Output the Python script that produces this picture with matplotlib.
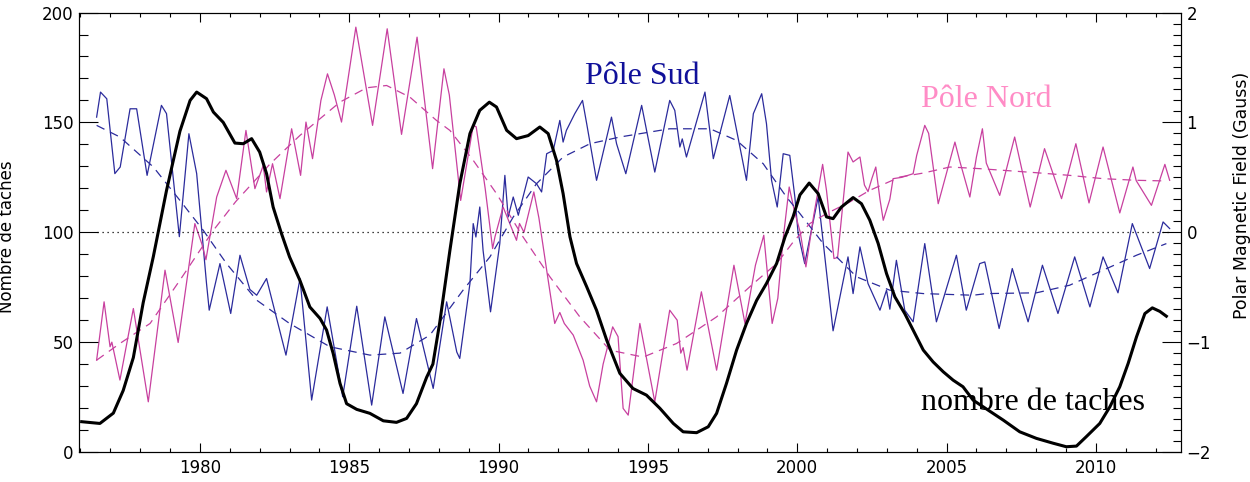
import matplotlib
matplotlib.use("Agg")
import matplotlib.pyplot as plt
import numpy as np
from matplotlib.ticker import MultipleLocator

# nombre de taches (moyenne glissante)
ss_year = [1976.04, 1976.65, 1977.1, 1977.43, 1977.77, 1978.1, 1978.44, 1978.88, 1979.33, 1979.67,
           1979.89, 1980.22, 1980.45, 1980.78, 1981.17, 1981.45, 1981.73, 1982.0, 1982.23, 1982.45,
           1982.73, 1983.0, 1983.35, 1983.68, 1984.02, 1984.24, 1984.46, 1984.69, 1984.91, 1985.25,
           1985.69, 1986.14, 1986.58, 1986.92, 1987.25, 1987.59, 1987.8, 1988.03, 1988.37, 1988.7,
           1989.04, 1989.37, 1989.69, 1989.93, 1990.27, 1990.6, 1990.99, 1991.38, 1991.66, 1991.94,
           1992.16, 1992.39, 1992.61, 1992.95, 1993.28, 1993.62, 1994.06, 1994.5, 1994.95, 1995.4,
           1995.85, 1996.18, 1996.63, 1997.02, 1997.3, 1997.63, 1997.97, 1998.3, 1998.64, 1998.97,
           1999.31, 1999.59, 1999.86, 2000.09, 2000.4, 2000.7, 2000.98, 2001.2, 2001.48, 2001.87,
           2002.15, 2002.43, 2002.71, 2002.99, 2003.27, 2003.6, 2003.88, 2004.22, 2004.55, 2004.89,
           2005.22, 2005.55, 2005.89, 2006.4, 2006.9, 2007.45, 2008.01, 2008.57, 2009.01, 2009.35,
           2009.68, 2010.13, 2010.47, 2010.8, 2011.08, 2011.36, 2011.64, 2011.89, 2012.14, 2012.36]
ss_val = [13.8, 13.0, 17.7, 28.0, 43.0, 68.0, 89.0, 119.0, 146.0, 160.0,
          163.8, 160.8, 154.7, 150.0, 140.6, 140.3, 142.6, 136.5, 126.7, 111.5,
          99.4, 88.8, 78.0, 66.0, 60.8, 55.5, 44.9, 31.2, 22.0, 19.4,
          17.6, 14.2, 13.5, 15.3, 22.0, 34.0, 40.0, 59.0, 91.8, 122.0,
          144.9, 155.5, 159.2, 157.0, 146.4, 142.6, 144.0, 147.9, 144.9, 132.7,
          117.6, 97.9, 85.8, 75.2, 64.5, 50.9, 35.8, 28.9, 25.9, 19.9,
          13.0, 9.2, 8.8, 11.5, 17.6, 31.2, 46.4, 58.5, 69.0, 76.7,
          85.8, 97.9, 107.0, 117.0, 122.4, 117.6, 107.0, 106.2, 111.5, 115.8,
          113.0, 105.5, 94.9, 81.2, 70.6, 63.0, 55.5, 46.4, 41.0, 36.5,
          32.7, 29.7, 23.6, 19.0, 14.5, 9.2, 6.2, 4.0, 2.4, 2.7,
          7.0, 13.0, 20.6, 29.7, 40.3, 52.4, 63.0, 65.6, 64.0, 61.8]

# champ polaire sud (Gauss)
sud_year = [1976.54, 1976.67, 1976.88, 1977.15, 1977.33, 1977.66, 1977.88, 1978.23, 1978.71, 1978.88,
            1979.31, 1979.63, 1979.89, 1980.22, 1980.31, 1980.67, 1981.03, 1981.34, 1981.67, 1981.9,
            1982.23, 1982.88, 1983.35, 1983.74, 1984.26, 1984.78, 1985.25, 1985.75, 1986.19, 1986.8,
            1987.25, 1987.81, 1988.26, 1988.6, 1988.7, 1989.04, 1989.15, 1989.24, 1989.37, 1989.48,
            1989.73, 1990.04, 1990.21, 1990.32, 1990.49, 1990.66, 1990.99, 1991.27, 1991.44, 1991.61,
            1991.83, 1992.05, 1992.16, 1992.27, 1992.55, 1992.81, 1992.95, 1993.28, 1993.78, 1993.95,
            1994.26, 1994.79, 1995.23, 1995.73, 1995.9, 1996.07, 1996.15, 1996.29, 1996.91, 1997.19,
            1997.74, 1998.3, 1998.53, 1998.81, 1998.97, 1999.14, 1999.33, 1999.53, 1999.75, 1999.92,
            2000.03, 2000.25, 2000.7, 2001.2, 2001.7, 2001.87, 2002.1, 2002.37, 2002.77, 2002.99,
            2003.1, 2003.32, 2003.6, 2003.88, 2004.27, 2004.66, 2005.33, 2005.66, 2006.11, 2006.28,
            2006.76, 2007.2, 2007.73, 2008.21, 2008.73, 2009.29, 2009.8, 2010.24, 2010.74, 2011.22,
            2011.8, 2012.25, 2012.47]
sud_val = [1.048, 1.276, 1.215, 0.534, 0.594, 1.124, 1.124, 0.518, 1.155, 1.08,
           -0.04, 0.897, 0.534, -0.467, -0.709, -0.285, -0.739, -0.209, -0.52, -0.573,
           -0.421, -1.118, -0.421, -1.527, -0.679, -1.497, -0.673, -1.573, -0.77, -1.467,
           -0.785, -1.421, -0.633, -1.09, -1.148, -0.467, 0.079, -0.043, 0.23, -0.164,
           -0.724, -0.103, 0.518, 0.139, 0.321, 0.155, 0.503, 0.442, 0.367, 0.715,
           0.745, 1.018, 0.821, 0.927, 1.079, 1.2, 0.988, 0.473, 1.048, 0.806,
           0.533, 1.155, 0.548, 1.2, 1.109, 0.776, 0.85, 0.685, 1.276, 0.67,
           1.245, 0.473, 1.079, 1.261, 0.988, 0.473, 0.23, 0.715, 0.70, 0.321,
           -0.012, -0.285, 0.321, -0.897, -0.224, -0.558, -0.133, -0.467, -0.709, -0.527,
           -0.7, -0.255, -0.709, -0.815, -0.103, -0.815, -0.209, -0.709, -0.285, -0.27,
           -0.876, -0.33, -0.815, -0.3, -0.739, -0.224, -0.679, -0.224, -0.551, 0.079,
           -0.33, 0.094, 0.034]

# champ polaire nord (Gauss)
nord_year = [1976.54, 1976.79, 1976.99, 1977.05, 1977.32, 1977.77, 1978.27, 1978.83, 1979.27, 1979.83,
             1980.06, 1980.2, 1980.56, 1980.87, 1981.23, 1981.54, 1981.84, 1982.12, 1982.23, 1982.43,
             1982.68, 1983.07, 1983.37, 1983.55, 1983.77, 1984.05, 1984.27, 1984.5, 1984.74, 1985.22,
             1985.78, 1986.27, 1986.75, 1987.27, 1987.79, 1988.17, 1988.35, 1988.73, 1989.15, 1989.25,
             1989.55, 1989.8, 1989.88, 1990.15, 1990.3, 1990.6, 1990.7, 1990.85, 1991.18, 1991.35,
             1991.61, 1991.88, 1992.05, 1992.2, 1992.5, 1992.83, 1993.05, 1993.28, 1993.5, 1993.82,
             1994.0, 1994.17, 1994.34, 1994.73, 1995.23, 1995.73, 1995.98, 1996.1, 1996.18, 1996.31,
             1996.79, 1997.3, 1997.88, 1998.25, 1998.6, 1998.88, 1999.16, 1999.35, 1999.52, 1999.73,
             1999.9, 2000.1, 2000.29, 2000.55, 2000.85, 2000.98, 2001.23, 2001.35, 2001.7, 2001.87,
             2002.1, 2002.25, 2002.37, 2002.5, 2002.63, 2002.77, 2002.88, 2003.1, 2003.21, 2003.5,
             2003.88, 2004.0, 2004.27, 2004.4, 2004.72, 2005.28, 2005.44, 2005.78, 2006.0, 2006.2,
             2006.33, 2006.78, 2007.28, 2007.8, 2008.28, 2008.85, 2009.33, 2009.77, 2010.24, 2010.8,
             2011.24, 2011.35, 2011.86, 2012.31, 2012.47]
nord_val = [-1.164, -0.633, -1.042, -1.0, -1.345, -0.694, -1.543, -0.345, -1.003, 0.079,
            -0.103, -0.25, 0.321, 0.564, 0.306, 0.927, 0.397, 0.609, 0.367, 0.624,
            0.306, 0.942, 0.518, 1.003, 0.67, 1.2, 1.442, 1.25, 1.003, 1.867,
            0.973, 1.852, 0.891, 1.776, 0.579, 1.488, 1.25, 0.29, 0.973, 0.96,
            0.40, -0.148, -0.04, 0.23, 0.13, -0.073, 0.08, 0.0, 0.367, 0.13,
            -0.345, -0.83, -0.73, -0.83, -0.936, -1.164, -1.4, -1.543, -1.2, -0.861,
            -0.95, -1.603, -1.664, -0.83, -1.543, -0.709, -0.8, -1.1, -1.05, -1.255,
            -0.542, -1.255, -0.3, -0.83, -0.3, -0.027, -0.83, -0.6, -0.08, 0.412,
            0.2, 0.0, -0.315, 0.15, 0.618, 0.38, -0.239, -0.23, 0.73, 0.64,
            0.685, 0.43, 0.37, 0.49, 0.594, 0.3, 0.109, 0.3, 0.488, 0.50,
            0.533, 0.7, 0.973, 0.9, 0.26, 0.821, 0.65, 0.321, 0.685, 0.942,
            0.63, 0.336, 0.867, 0.23, 0.761, 0.306, 0.806, 0.267, 0.776, 0.176,
            0.594, 0.47, 0.245, 0.618, 0.473]

# tendances lissees
sud_lisse_year = [1976.54, 1977.32, 1978.44, 1979.33, 1980.11, 1980.89, 1981.9, 1983.0, 1984.35, 1985.69,
                  1986.7, 1987.7, 1988.81, 1989.71, 1990.49, 1991.27, 1992.16, 1993.06, 1994.06, 1995.73,
                  1997.08, 1997.97, 1998.86, 1999.64, 2000.09, 2000.87, 2001.99, 2003.1, 2004.22, 2005.89,
                  2006.34, 2008.01, 2009.12, 2010.24, 2011.36, 2012.36]
sud_lisse = [0.973, 0.867, 0.594, 0.29, 0.018, -0.285, -0.618, -0.83, -1.042, -1.118,
             -1.1, -0.936, -0.527, -0.224, 0.139, 0.442, 0.685, 0.806, 0.867, 0.942,
             0.942, 0.836, 0.624, 0.321, 0.17, -0.103, -0.406, -0.527, -0.558, -0.573,
             -0.558, -0.551, -0.482, -0.345, -0.209, -0.103]

nord_lisse_year = [1976.54, 1977.32, 1978.33, 1979.33, 1980.45, 1981.2, 1982.34, 1983.35, 1984.69, 1985.58,
                   1986.25, 1987.03, 1987.92, 1988.37, 1989.15, 1989.93, 1990.82, 1991.72, 1992.72, 1993.73,
                   1994.84, 1995.96, 1997.3, 1998.53, 1999.31, 1999.86, 2000.42, 2000.98, 2001.76, 2002.43,
                   2003.44, 2004.22, 2005.11, 2006.11, 2006.89, 2008.01, 2009.12, 2010.24, 2011.36, 2012.36]
nord_lisse = [-1.164, -1.012, -0.83, -0.436, 0.018, 0.28, 0.62, 0.882, 1.185, 1.315,
              1.336, 1.23, 1.018, 0.927, 0.655, 0.352, -0.043, -0.406, -0.77, -1.073,
              -1.136, -1.012, -0.77, -0.467, -0.285, -0.09, 0.079, 0.17, 0.276, 0.382,
              0.503, 0.539, 0.594, 0.579, 0.564, 0.542, 0.518, 0.488, 0.473, 0.467]

c_sud = "#2b2b9c"
c_nord = "#c8409f"

fig = plt.figure(figsize=(12.5, 4.82), dpi=100)
ax = fig.add_axes([0.0632, 0.0622, 0.8816, 0.9118])
ax2 = ax.twinx()

# champ magnetique sur l'axe de droite
ax2.plot(sud_year, sud_val, color=c_sud, lw=0.9)
ax2.plot(nord_year, nord_val, color=c_nord, lw=0.9)
ax2.plot(sud_lisse_year, sud_lisse, color=c_sud, lw=0.9, ls=(0, (7, 5)))
ax2.plot(nord_lisse_year, nord_lisse, color=c_nord, lw=0.9, ls=(0, (7, 5)))
ax2.hlines(0, sud_year[0], sud_year[-1], colors="black", linestyles=(0, (1, 3)), lw=0.9)
ax2.set_ylim(-2, 2)

# taches au premier plan
ax.set_zorder(ax2.get_zorder() + 1)
ax.patch.set_visible(False)
ax.plot(ss_year, ss_val, color="black", lw=2.2)
ax.set_ylim(0, 200)
ax.set_xlim(1975.95, 2012.85)

ax.xaxis.set_major_locator(MultipleLocator(5))
ax.xaxis.set_minor_locator(MultipleLocator(1))
ax.yaxis.set_major_locator(MultipleLocator(50))
ax.yaxis.set_minor_locator(MultipleLocator(10))
ax2.yaxis.set_major_locator(MultipleLocator(1))
ax2.yaxis.set_minor_locator(MultipleLocator(0.1))

ax.tick_params(axis="x", which="both", direction="in", top=True, labelsize=12, pad=5)
ax.tick_params(axis="x", which="major", length=6.5, width=0.8)
ax.tick_params(axis="x", which="minor", length=3, width=0.8)
ax.tick_params(axis="y", which="both", direction="in", right=False, labelsize=12, pad=4)
ax.tick_params(axis="y", which="major", length=14, width=0.8)
ax.tick_params(axis="y", which="minor", length=6.5, width=0.8)
ax2.tick_params(axis="y", which="both", direction="in", labelsize=12, pad=4)
ax2.tick_params(axis="y", which="major", length=14, width=0.8)
ax2.tick_params(axis="y", which="minor", length=6, width=0.8)

for a in (ax, ax2):
    for s in a.spines.values():
        s.set_linewidth(0.8)

ax.set_ylabel("Nombre de taches", fontsize=12)
ax.yaxis.set_label_coords(-0.057, 0.49)
ax2.set_ylabel("Polar Magnetic Field (Gauss)", fontsize=12.5)
ax2.yaxis.set_label_coords(1.047, 0.585)

serif = ["Liberation Serif", "DejaVu Serif"]
ax2.text(1992.89, 1.352, "Pôle Sud", color="#10109a", fontsize=23, family=serif, va="baseline")
ax2.text(2004.16, 1.139, "Pôle Nord", color="#ff8cc6", fontsize=23, family=serif, va="baseline")
ax.text(2004.16, 19.1, "nombre de taches", color="black", fontsize=23, family=serif, va="baseline")

fig.savefig("out.png", dpi=100)
